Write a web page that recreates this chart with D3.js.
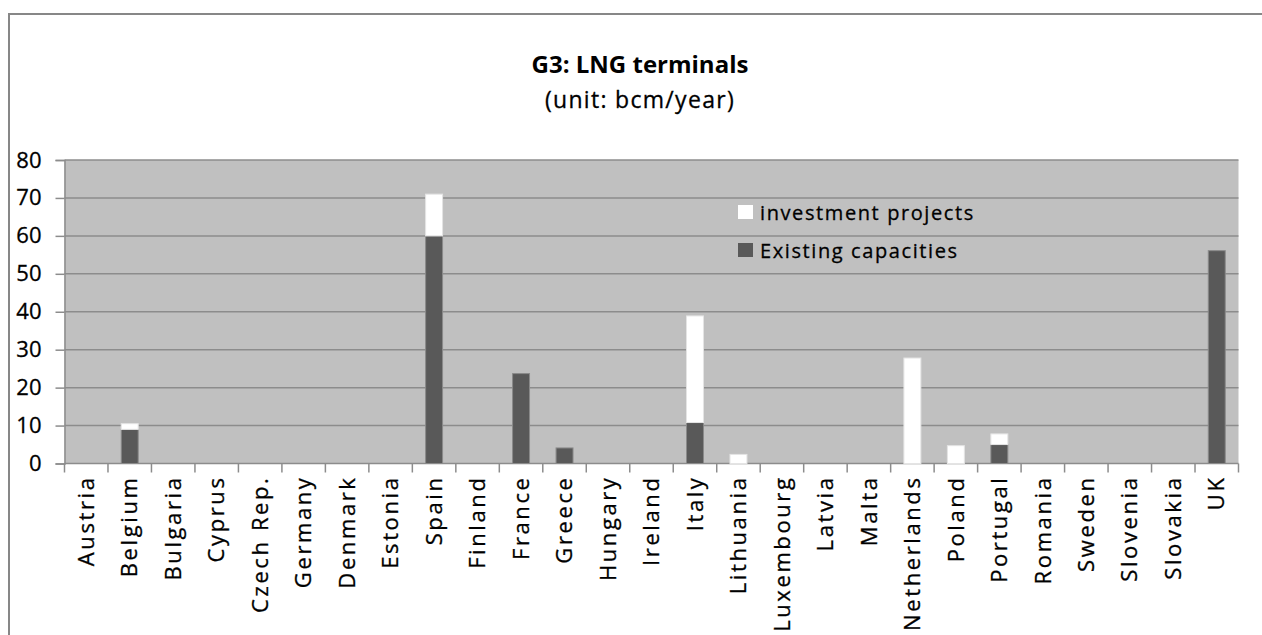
<!DOCTYPE html>
<html>
<head>
<meta charset="utf-8">
<script src="https://cdn.jsdelivr.net/npm/d3@7"></script>
<style>
  body{margin:0;background:#fff;}
  svg{display:block;font-family:"Open Sans",sans-serif;}
</style>
</head>
<body>
<script>
// LNG terminal capacity per country, bcm/year
let countries=["Austria","Belgium","Bulgaria","Cyprus","Czech Rep.","Germany","Denmark","Estonia","Spain","Finland","France","Greece","Hungary","Ireland","Italy","Lithuania","Luxembourg","Latvia","Malta","Netherlands","Poland","Portugal","Romania","Sweden","Slovenia","Slovakia","UK"];
let existing=[0,9,0,0,0,0,0,0,60,0,23.7,4.1,0,0,10.8,0,0,0,0,0,0,5,0,0,0,0,56.1];
let investment=[0,1.5,0,0,0,0,0,0,11,0,0,0,0,0,28.1,2.4,0,0,0,27.8,4.7,2.8,0,0,0,0,0];
let yTicks=[0,10,20,30,40,50,60,70,80];
let seriesNames=["investment projects","Existing capacities"];

let w=1262,h=635;
let padL=64.5,padR=1238.5,padT=160,padB=463.5;

let svg=d3.select("body").append("svg").attr("width",w).attr("height",h);

// chart frame
svg.append("rect").attr("x",9).attr("y",14).attr("width",1300).attr("height",700)
  .attr("fill","#fff").attr("stroke","#878787").attr("stroke-width",2);

let xScale=d3.scaleBand().domain(countries).range([padL,padR]);
let yScale=d3.scaleLinear().domain([0,80]).range([padB,padT]);

svg.append("rect").attr("x",padL).attr("y",padT).attr("width",padR-padL).attr("height",padB-padT).attr("fill","#c0c0c0");

// gridlines
svg.append("g").selectAll("line").data(yTicks.slice(1)).enter().append("line")
  .attr("x1",padL).attr("x2",padR).attr("y1",d=>yScale(d)).attr("y2",d=>yScale(d))
  .attr("stroke","#8c8c8c").attr("stroke-width",1.5);

// y axis
let yAxis=d3.axisLeft(yScale).tickValues(yTicks).tickSize(9).tickPadding(14);
let gy=svg.append("g").attr("transform","translate("+padL+",0)").call(yAxis);
gy.select(".domain").attr("stroke","#8c8c8c").attr("stroke-width",1.5);
gy.selectAll(".tick line").attr("stroke","#8c8c8c").attr("stroke-width",1.5);
gy.selectAll("text").style("font-size","22px").style("font-family","'Open Sans',sans-serif")
  .attr("fill","#000").attr("stroke","#000").attr("stroke-width",0.3);

// x axis: ticks at band edges
let gx=svg.append("g").attr("transform","translate(0,"+padB+")");
gx.append("line").attr("x1",padL).attr("x2",padR).attr("stroke","#8c8c8c").attr("stroke-width",1.5);
let edges=countries.map(c=>xScale(c)).concat([padR]);
gx.selectAll("line.tk").data(edges).enter().append("line").attr("class","tk")
  .attr("x1",d=>d).attr("x2",d=>d).attr("y1",0).attr("y2",9)
  .attr("stroke","#8c8c8c").attr("stroke-width",1.5);
gx.selectAll("text").data(countries).enter().append("text")
  .attr("transform",d=>"translate("+(xScale(d)+xScale.bandwidth()/2)+",12) rotate(-90)")
  .attr("dy","0.35em").attr("text-anchor","end")
  .style("font-size","22px").style("letter-spacing","2.6px")
  .attr("fill","#000").attr("stroke","#000").attr("stroke-width",0.3)
  .text(d=>d);

// stacked bars
let bw=xScale.bandwidth()*0.39;
let rows=countries.map((c,i)=>({c:c,e:existing[i],v:investment[i]}));
svg.append("g").selectAll("rect").data(rows.filter(d=>d.e>0)).enter().append("rect")
  .attr("x",d=>xScale(d.c)+(xScale.bandwidth()-bw)/2).attr("width",bw)
  .attr("y",d=>yScale(d.e)).attr("height",d=>yScale(0)-yScale(d.e))
  .attr("fill","#595959").attr("stroke","#8a8a8a").attr("stroke-width",1);
svg.append("g").selectAll("rect").data(rows.filter(d=>d.v>0)).enter().append("rect")
  .attr("x",d=>xScale(d.c)+(xScale.bandwidth()-bw)/2).attr("width",bw)
  .attr("y",d=>yScale(d.e+d.v)).attr("height",d=>yScale(d.e)-yScale(d.e+d.v))
  .attr("fill","#fff").attr("stroke","#e4e4e4").attr("stroke-width",1);

// titles
svg.append("text").attr("x",640).attr("y",73).attr("text-anchor","middle")
  .style("font-size","24px").style("font-weight","bold").attr("fill","#000").text("G3: LNG terminals");
svg.append("text").attr("x",640).attr("y",108).attr("text-anchor","middle")
  .style("font-size","23px").style("letter-spacing","1.3px")
  .attr("fill","#000").attr("stroke","#000").attr("stroke-width",0.3).text("(unit: bcm/year)");

// legend
let legCol=["#fff","#595959"];
let leg=svg.append("g");
seriesNames.forEach((s,i)=>{
  leg.append("rect").attr("x",738).attr("y",205+i*38).attr("width",15).attr("height",14).attr("fill",legCol[i]);
  leg.append("text").attr("x",760).attr("y",220+i*38).style("font-size","20px").style("letter-spacing","1.6px")
    .attr("fill","#000").attr("stroke","#000").attr("stroke-width",0.3).text(s);
});
</script>
</body>
</html>
